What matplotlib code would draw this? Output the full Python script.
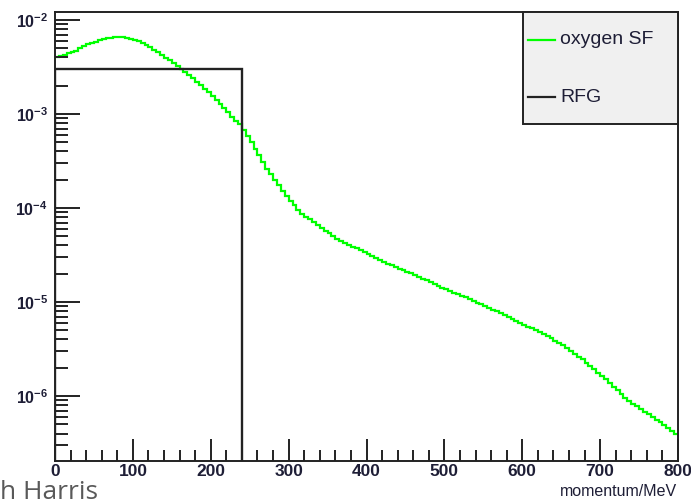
import numpy as np
import matplotlib
matplotlib.use("Agg")
import matplotlib.pyplot as plt
from matplotlib.patches import Rectangle
from matplotlib.lines import Line2D
from matplotlib.ticker import LogLocator, NullFormatter, FuncFormatter, MultipleLocator

plt.rcParams['font.family'] = ['Liberation Sans', 'DejaVu Sans']
plt.rcParams['mathtext.fontset'] = 'custom'
plt.rcParams['mathtext.rm'] = 'Liberation Sans'
plt.rcParams['mathtext.default'] = 'regular'

# === DATA ===
# oxygen spectral function, 5 MeV bins from 0 to 800 MeV,
# stored as log10 of the bin content
bin_width = 5
sf_log10 = [
    -2.39, -2.38, -2.37, -2.355, -2.34, -2.325, -2.30, -2.28, -2.26, -2.245,
    -2.23, -2.215, -2.205, -2.195, -2.19, -2.185, -2.183, -2.185, -2.19, -2.20,
    -2.21, -2.225, -2.245, -2.265, -2.29, -2.315, -2.34, -2.37, -2.40, -2.43,
    -2.46, -2.49, -2.52, -2.55, -2.585, -2.62, -2.655, -2.69, -2.73, -2.77,
    -2.81, -2.85, -2.89, -2.94, -2.98, -3.03, -3.07, -3.11, -3.17, -3.23,
    -3.30, -3.37, -3.44, -3.51, -3.58, -3.64, -3.70, -3.76, -3.82, -3.87,
    -3.92, -3.97, -4.02, -4.06, -4.09, -4.12, -4.15, -4.18, -4.21, -4.24,
    -4.27, -4.30, -4.33, -4.35, -4.37, -4.39, -4.41, -4.43, -4.45, -4.47,
    -4.49, -4.51, -4.53, -4.555, -4.575, -4.59, -4.61, -4.63, -4.645, -4.66,
    -4.68, -4.695, -4.71, -4.73, -4.75, -4.77, -4.79, -4.81, -4.83, -4.85,
    -4.865, -4.88, -4.90, -4.915, -4.935, -4.95, -4.97, -4.99, -5.005, -5.02,
    -5.04, -5.06, -5.08, -5.10, -5.12, -5.14, -5.16, -5.18, -5.20, -5.22,
    -5.24, -5.26, -5.28, -5.30, -5.32, -5.34, -5.36, -5.38, -5.41, -5.43,
    -5.46, -5.49, -5.52, -5.55, -5.58, -5.61, -5.645, -5.68, -5.715, -5.75,
    -5.785, -5.82, -5.86, -5.90, -5.94, -5.98, -6.02, -6.055, -6.085, -6.11,
    -6.14, -6.17, -6.195, -6.22, -6.25, -6.28, -6.31, -6.34, -6.37, -6.40,
]
sf_values = 10.0 ** np.array(sf_log10)
sf_edges = np.arange(len(sf_values) + 1) * bin_width

# relativistic Fermi gas: flat up to the Fermi momentum
rfg_edges = [0, 240]
rfg_values = [3.0e-3]

x_range = (0, 800)
y_range = (2.04e-7, 1.217e-2)
x_label = "momentum/MeV"
legend_labels = ["oxygen SF", "RFG"]

# === PLOT ===
W, H = 691, 501
fig = plt.figure(figsize=(W / 100, H / 100), dpi=100)


def px(x, y):
    # pixel position (from top-left) -> figure fraction
    return x / W, 1 - y / H


ax = fig.add_axes([55 / W, 1 - 461 / H, (678 - 55) / W, (461 - 12) / H])

green = '#00ff00'
dark = '#222222'
txt = '#1e1e36'
ax.stairs(sf_values, sf_edges, baseline=None, color=green, lw=1.6)
ax.stairs(rfg_values, rfg_edges, baseline=y_range[0], color=dark, lw=1.7)

ax.set_yscale('log')
ax.set_xlim(*x_range)
ax.set_ylim(*y_range)

ax.xaxis.set_major_locator(MultipleLocator(100))
ax.xaxis.set_minor_locator(MultipleLocator(20))
ax.yaxis.set_major_locator(LogLocator(base=10, numticks=20))
ax.yaxis.set_minor_locator(LogLocator(base=10, subs=np.arange(2, 10), numticks=20))
ax.yaxis.set_minor_formatter(NullFormatter())
ax.yaxis.set_major_formatter(FuncFormatter(lambda v, p: r'$10^{%d}$' % round(np.log10(v))))

ax.tick_params(which='both', direction='in', top=False, right=False, colors=dark,
               labelcolor=txt, width=1.4)
ax.tick_params(axis='x', which='major', length=16, labelsize=12.5, pad=2)
ax.tick_params(axis='x', which='minor', length=8)
ax.tick_params(axis='y', which='major', length=18, labelsize=11.5, pad=5)
ax.tick_params(axis='y', which='minor', length=9)
for lab in ax.get_xticklabels() + ax.get_yticklabels():
    lab.set_fontweight('semibold')
for s in ax.spines.values():
    s.set_linewidth(1.4)
    s.set_color(dark)

# axis title, ROOT style: under the right end of the x axis
fig.text(*px(677, 492), x_label, ha='right', va='center', fontsize=11.5, color=txt)

# slide footer text, partly cut off
fig.text(*px(0, 499), 'h Harris', ha='left', va='baseline', fontsize=19,
         color='#595959', family=['Open Sans', 'DejaVu Sans'])

# legend box (ROOT TLegend look)
x0, y0 = px(522.7, 12)
x1, y1 = px(678, 124)
fig.patches.append(Rectangle((x0, y1), x1 - x0, y0 - y1, transform=fig.transFigure,
                             facecolor='#f0f0f0', edgecolor=dark, lw=1.4, zorder=5))
for label, color, yy in zip(legend_labels, [green, dark], [40, 97]):
    lx0, ly = px(528, yy)
    lx1, _ = px(555, yy)
    fig.lines.append(Line2D([lx0, lx1], [ly, ly], transform=fig.transFigure,
                            color=color, lw=1.6, zorder=6))
    fig.text(*px(560, yy), label, ha='left', va='center', fontsize=14,
             color=txt, zorder=7)

fig.savefig('out.png', dpi=100)
